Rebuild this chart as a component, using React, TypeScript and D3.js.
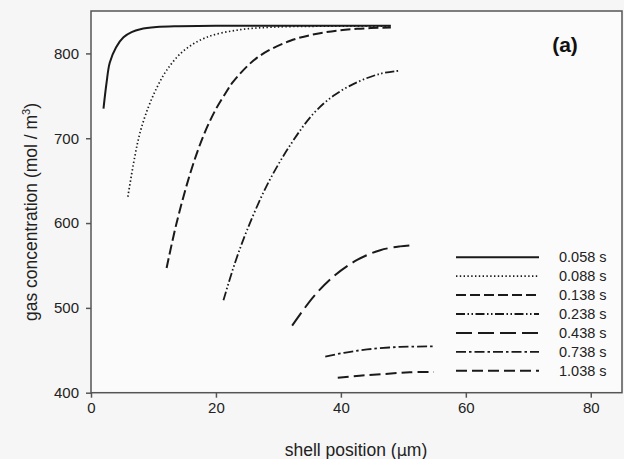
import React, { useEffect, useRef } from "react";
import * as d3 from "d3";

// gas concentration profiles across the shell, one per time
const times = ["0.058 s", "0.088 s", "0.138 s", "0.238 s", "0.438 s", "0.738 s", "1.038 s"];

const s058 = [[2.0, 735], [2.5, 766], [3.0, 789], [4.0, 807], [5.2, 819], [6.5, 825], [7.9, 828.5], [10.5, 831], [14, 832], [20, 832.5], [30, 832.5], [40, 832.5], [48, 832.5]];
const s088 = [[5.9, 631], [7.0, 678], [7.9, 708], [9.2, 737], [10.5, 759], [12.1, 780], [14.8, 803], [18.5, 819], [23.9, 828], [29.2, 831], [36, 832], [42, 832], [48, 832]];
const s138 = [[12.1, 547], [13.7, 600], [15.9, 659], [18.0, 703], [19.9, 733], [21.7, 755], [22.8, 767], [26.6, 795], [31.9, 815], [37.2, 824.5], [42.6, 829], [48, 830.5]];
const s238 = [[21.2, 509], [23.0, 552], [25.0, 592], [28.2, 645], [31.9, 692], [35.6, 729], [38.8, 750], [42.6, 766], [46.3, 776], [49.2, 779.5]];
const s438 = [[32.2, 479], [35.6, 513], [38.8, 537], [42.6, 556.5], [46.3, 568], [49.5, 572.5], [51.8, 574]];
const s738 = [[37.5, 442.5], [40.5, 447], [44.2, 451], [49.5, 454], [54.9, 454.5]];
const s1038 = [[39.5, 417.5], [43, 420], [46.8, 422], [51, 424], [54.9, 424.5]];

const series = [s058, s088, s138, s238, s438, s738, s1038];

const xTicks = [0, 20, 40, 60, 80];
const yTicks = [400, 500, 600, 700, 800];

// line styles, same order as times
const dashes = [null, "1.4,2.4", "10,4", "9,2.5,1.5,2.5,1.5,2.5", "16,6", "10,3,2.5,3", "11,5"];
const widths = [2, 1.7, 2, 1.8, 2, 1.8, 2];

export default function App() {
  const ref = useRef(null);
  const width = 624;
  const height = 459;
  const margin = { top: 11, right: 2, bottom: 66.3, left: 91 };

  useEffect(() => {
    document.body.style.margin = "0";
    drawChart();
  }, []);

  function drawChart() {
    const svg = d3.select(ref.current);
    svg.selectAll("*").remove();

    const x = d3.scaleLinear().domain([0, 85]).range([margin.left, width - margin.right]);
    const y = d3.scaleLinear().domain([400, 850]).range([height - margin.bottom, margin.top]);

    svg.append("rect").attr("width", width).attr("height", height).attr("fill", "#f6f6f6");

    const font = "'Liberation Sans', Arial, sans-serif";
    const ink = "#222";

    // frame
    svg
      .append("rect")
      .attr("x", x(0))
      .attr("y", y(850))
      .attr("width", x(85) - x(0))
      .attr("height", y(400) - y(850))
      .attr("fill", "#fbfbfb")
      .attr("stroke", "#555")
      .attr("stroke-width", 1.5);

    // x axis
    const xAxis = svg.append("g").attr("transform", `translate(0,${y(400)})`).call(
      d3.axisBottom(x).tickValues(xTicks).tickSize(5).tickPadding(5).tickFormat(d3.format("d"))
    );
    xAxis.select(".domain").remove();
    xAxis.selectAll("line").attr("stroke", "#555").attr("stroke-width", 1.5);
    xAxis.selectAll("text").attr("font-family", font).attr("font-size", 15).attr("fill", ink);

    // y axis
    const yAxis = svg.append("g").attr("transform", `translate(${x(0)},0)`).call(
      d3.axisLeft(y).tickValues(yTicks).tickSize(5).tickPadding(7).tickFormat(d3.format("d"))
    );
    yAxis.select(".domain").remove();
    yAxis.selectAll("line").attr("stroke", "#555").attr("stroke-width", 1.5);
    yAxis.selectAll("text").attr("font-family", font).attr("font-size", 15).attr("fill", ink);

    // axis titles
    const xt = svg
      .append("text")
      .attr("x", 356)
      .attr("y", 456)
      .attr("text-anchor", "middle")
      .attr("font-family", font)
      .attr("font-size", 17.5)
      .attr("fill", ink);
    xt.append("tspan").text("shell position (");
    xt.append("tspan").text("\u03bc").attr("font-family", "'DejaVu Sans', sans-serif").attr("font-size", 16);
    xt.append("tspan").text("m)");

    const yt = svg
      .append("text")
      .attr("transform", `translate(37,212) rotate(-90)`)
      .attr("text-anchor", "middle")
      .attr("font-family", font)
      .attr("font-size", 17.5)
      .attr("fill", ink);
    yt.append("tspan").text("gas concentration (mol / m");
    yt.append("tspan").text("3").attr("font-size", 11).attr("dy", -7);
    yt.append("tspan").text(")").attr("dy", 7);

    svg
      .append("text")
      .attr("x", 565)
      .attr("y", 52)
      .attr("text-anchor", "middle")
      .attr("font-family", font)
      .attr("font-weight", "bold")
      .attr("font-size", 21)
      .attr("fill", "#111")
      .text("(a)");

    const line = d3
      .line()
      .x((d) => x(d[0]))
      .y((d) => y(d[1]))
      .curve(d3.curveCatmullRom.alpha(0.5));

    series.forEach((s, i) => {
      svg
        .append("path")
        .attr("d", line(s))
        .attr("fill", "none")
        .attr("stroke", "#1a1a1a")
        .attr("stroke-width", widths[i])
        .attr("stroke-dasharray", dashes[i])
        .attr("stroke-linecap", "butt");
    });

    // legend
    const legend = svg.append("g");
    times.forEach((t, i) => {
      const ly = 257.3 + i * 18.9;
      legend
        .append("line")
        .attr("x1", 456)
        .attr("x2", 539)
        .attr("y1", ly)
        .attr("y2", ly)
        .attr("stroke", "#1a1a1a")
        .attr("stroke-width", widths[i])
        .attr("stroke-dasharray", dashes[i]);
      legend
        .append("text")
        .attr("x", 559)
        .attr("y", ly + 5)
        .attr("font-family", font)
        .attr("font-size", 14.5)
        .attr("fill", ink)
        .text(t);
    });
  }

  return <svg ref={ref} width={width} height={height} style={{ display: "block" }} />;
}
